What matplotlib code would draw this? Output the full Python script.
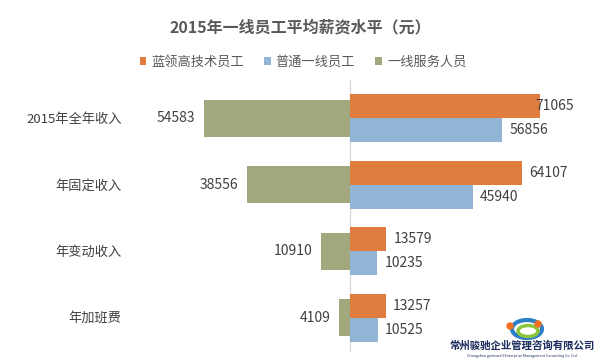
import matplotlib
matplotlib.use("Agg")
import matplotlib.pyplot as plt
from matplotlib.patches import Ellipse, Circle

plt.rcParams['font.family'] = ['Noto Sans CJK SC', 'DejaVu Sans']

categories = ['2015年全年收入', '年固定收入', '年变动收入', '年加班费']
series_names = ['蓝领高技术员工', '普通一线员工', '一线服务人员']
blue_collar = [71065, 64107, 13579, 13257]
ordinary = [56856, 45940, 10235, 10525]
service = [54583, 38556, 10910, 4109]
title = '2015年一线员工平均薪资水平（元）'

c_orange = '#E07D3E'
c_blue = '#93B5D5'
c_green = '#A2A77E'
txt = '#404040'

W, H = 600, 363
fig = plt.figure(figsize=(6, 3.63), dpi=100)
fig.patch.set_facecolor('white')

ax_left, ax_right = 130, 600
ax_top, ax_bottom = 85, 351
ax = fig.add_axes([ax_left / W, (H - ax_bottom) / H,
                   (ax_right - ax_left) / W, (ax_bottom - ax_top) / H])

scale = 2.68 / 1000.0  # px per unit
ax.set_xlim(-(350 - ax_left) / scale, (ax_right - 350) / scale)
ax.set_ylim(3.5, -0.5)

ypos = list(range(len(categories)))
hb = 0.36
hg = 0.555
ax.barh([y - hb / 2 for y in ypos], blue_collar, height=hb, color=c_orange, label=series_names[0])
ax.barh([y + hb / 2 for y in ypos], ordinary, height=hb, color=c_blue, label=series_names[1])
ax.barh(ypos, [-v for v in service], height=hg, color=c_green, label=series_names[2])

xmax_lbl = ax.get_xlim()[1]
for y, v in zip(ypos, blue_collar):
    # labels that would run past the plot edge are pulled back onto the bar
    off = 5 if v < 0.7 * xmax_lbl else -4
    ax.annotate(str(v), (v, y - hb / 2), xytext=(off, 0), textcoords='offset points',
                ha='left', va='center', fontsize=10, color=txt)
for y, v in zip(ypos, ordinary):
    ax.annotate(str(v), (v, y + hb / 2), xytext=(5, 0), textcoords='offset points',
                ha='left', va='center', fontsize=10, color=txt)
for y, v in zip(ypos, service):
    ax.annotate(str(v), (-v, y), xytext=(-6, 0), textcoords='offset points',
                ha='right', va='center', fontsize=10, color=txt)

ax.set_yticks(ypos)
ax.set_yticklabels(categories, fontsize=9.5, color=txt)
ax.tick_params(axis='y', length=0, pad=6)
ax.set_xticks([])
for s in ax.spines.values():
    s.set_visible(False)
ax.plot([0, 0], [-0.58, 3.5], color='#D9D9D9', lw=1, clip_on=False, zorder=0)

fig.text(0.5, 1 - 27 / H, title, ha='center', va='center', fontsize=11.5,
         fontweight='bold', color='#595959')

leg = fig.legend(loc='center', bbox_to_anchor=(0.505, 1 - 62 / H), ncol=3, frameon=False,
                 fontsize=9.5, handlelength=0.5, handleheight=0.5, handletextpad=0.4,
                 columnspacing=1.5)
for t in leg.get_texts():
    t.set_color('#595959')

# watermark logo
fax = fig.add_axes([0, 0, 1, 1], zorder=5)
fax.set_xlim(0, W)
fax.set_ylim(H, 0)
fax.axis('off')
fax.add_patch(Ellipse((527, 329), 30, 18, fill=False, ec='#2E7FC8', lw=3))
fax.add_patch(Ellipse((528, 331), 20, 11, fill=False, ec='#8CC63F', lw=2.5))
fax.add_patch(Circle((510, 326), 3, color='#F07020'))
fax.add_patch(Circle((538, 324), 3, color='#F07020'))
fax.text(522, 346, '常州骏驰企业管理咨询有限公司', ha='center', va='center',
         fontsize=7.5, fontweight='bold', color='#1A2B5C')
fax.text(522, 356, 'Changzhou gentowell Enterprise Management Consulting Co. Ltd.',
         ha='center', va='center', fontsize=2.6, color='#1A2B5C')

fig.savefig('out.png', dpi=100, facecolor='white')
